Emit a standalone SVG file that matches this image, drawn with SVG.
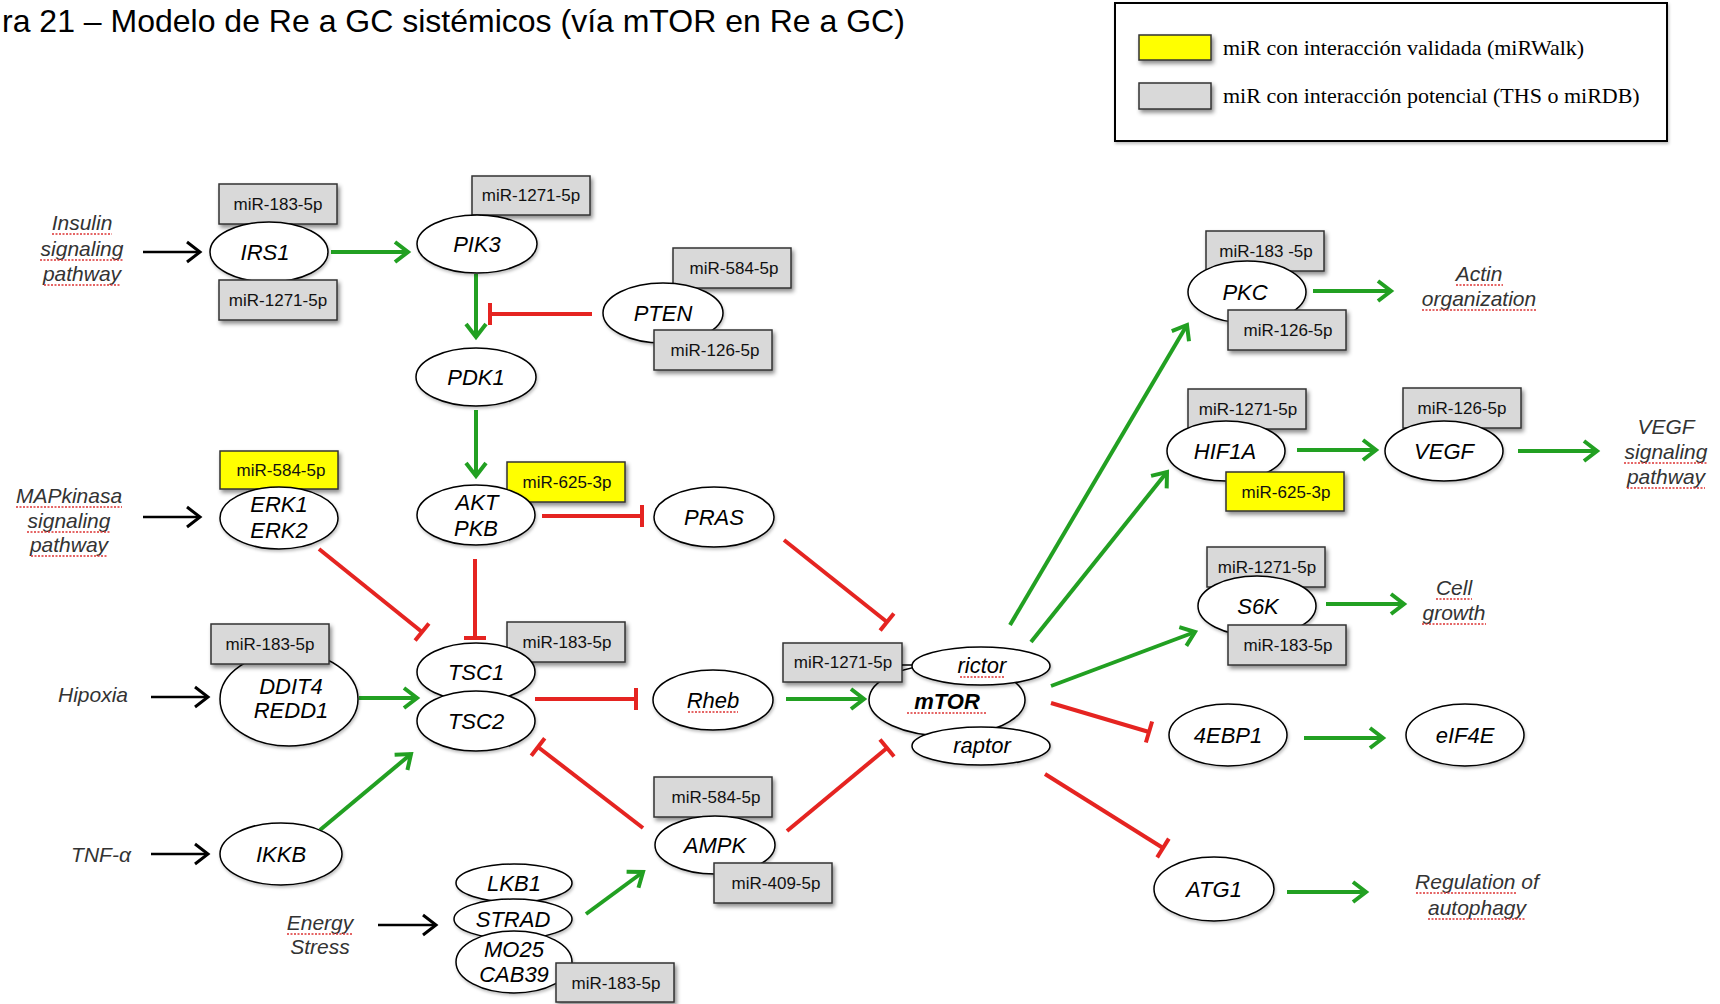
<svg xmlns="http://www.w3.org/2000/svg" width="1720" height="1004" viewBox="0 0 1720 1004">
<defs>
<filter id="sh" x="-20%" y="-30%" width="150%" height="170%"><feDropShadow dx="2" dy="3" stdDeviation="2" flood-color="#000" flood-opacity="0.45"/></filter>
<filter id="esh" x="-20%" y="-30%" width="150%" height="170%"><feDropShadow dx="1" dy="2" stdDeviation="1.5" flood-color="#000" flood-opacity="0.25"/></filter>
<marker id="ag" markerUnits="userSpaceOnUse" viewBox="-4 -14 22 28" markerWidth="22" markerHeight="28" refX="12" refY="0" orient="auto" overflow="visible"><path d="M-1,-10 L12,0 L-1,10" fill="none" stroke="#22a022" stroke-width="4"/></marker>
<marker id="ak" markerUnits="userSpaceOnUse" viewBox="-4 -14 22 28" markerWidth="22" markerHeight="28" refX="12" refY="0" orient="auto" overflow="visible"><path d="M-1,-10 L12,0 L-1,10" fill="none" stroke="#000" stroke-width="3"/></marker>
<marker id="ar" markerUnits="userSpaceOnUse" viewBox="-4 -14 8 28" markerWidth="8" markerHeight="28" refX="0" refY="0" orient="auto" overflow="visible"><path d="M0,-11 L0,11" stroke="#e52421" stroke-width="4"/></marker>
</defs>
<style>
.t{font-family:"Liberation Sans",Arial,sans-serif}
.lbl{font-family:"Liberation Sans",Arial,sans-serif;font-style:italic;font-size:22px;text-anchor:middle;fill:#000}
.ext{font-family:"Liberation Sans",Arial,sans-serif;font-style:italic;font-size:21px;text-anchor:middle;fill:#333}
.mir{font-family:"Liberation Sans",Arial,sans-serif;font-size:17px;text-anchor:middle;fill:#111}
.box{fill:#d9d9d9;stroke:#333;stroke-width:1.5;filter:url(#sh)}
.ybox{fill:#ffff00;stroke:#333;stroke-width:1.5;filter:url(#sh)}
.el{fill:#fff;stroke:#000;stroke-width:1.5;filter:url(#esh)}
.g{stroke:#22a022;stroke-width:4;fill:none;marker-end:url(#ag)}
.r{stroke:#e52421;stroke-width:4;fill:none;marker-end:url(#ar)}
.k{stroke:#000;stroke-width:2.5;fill:none;marker-end:url(#ak)}
.sq{stroke:#dd3333;stroke-width:1.4;stroke-dasharray:2 1.5;fill:none}
.leg{font-family:"Liberation Serif","Times New Roman",serif;font-size:22px;fill:#000}
</style>
<rect width="1720" height="1004" fill="#fff"/>

<text class="t" x="2" y="32" font-size="32" fill="#000">ra 21 – Modelo de Re a GC sistémicos (vía mTOR en Re a GC)</text>

<g id="legend">
<rect x="1115" y="3" width="552" height="138" fill="#fff" stroke="#000" stroke-width="2" filter="url(#esh)"/>
<rect x="1139" y="35" width="72" height="25" class="ybox"/>
<rect x="1139" y="83" width="72" height="26" class="box"/>
<text class="leg" x="1223" y="55">miR con interacción validada (miRWalk)</text>
<text class="leg" x="1223" y="103">miR con interacción potencial (THS o miRDB)</text>
</g>

<g id="connectors">
<path class="k" d="M143,252 L200,252"/>
<path class="k" d="M143,517 L200,517"/>
<path class="k" d="M151,697 L208,697"/>
<path class="k" d="M151,854 L208,854"/>
<path class="k" d="M378,925 L436,925"/>
<path class="g" d="M331,252 L408,252"/>
<path class="g" d="M476,274 L476,337"/>
<path class="g" d="M476,410 L476,476"/>
<path class="g" d="M359,698 L417,698"/>
<path class="g" d="M320,830 L411,754"/>
<path class="g" d="M586,914 L643,872"/>
<path class="g" d="M786,699 L864,699"/>
<path class="g" d="M1010,625 L1187,325"/>
<path class="g" d="M1031,642 L1167,472"/>
<path class="g" d="M1051,686 L1195,632"/>
<path class="g" d="M1313,291 L1391,291"/>
<path class="g" d="M1297,450 L1376,450"/>
<path class="g" d="M1518,451 L1597,451"/>
<path class="g" d="M1326,604 L1404,604"/>
<path class="g" d="M1304,738 L1383,738"/>
<path class="g" d="M1287,892 L1366,892"/>
<path class="r" d="M592,314 L490,314"/>
<path class="r" d="M542,516 L642,516"/>
<path class="r" d="M475,559 L475,638"/>
<path class="r" d="M319,549 L422,632"/>
<path class="r" d="M784,540 L887,622"/>
<path class="r" d="M535,699 L636,699"/>
<path class="r" d="M643,828 L538,747"/>
<path class="r" d="M787,831 L887,748"/>
<path class="r" d="M1051,703 L1149,732"/>
<path class="r" d="M1045,774 L1163,848"/>
</g>

<g id="labels">
<text class="ext"><tspan x="82" y="230">Insulin</tspan><tspan x="82" y="256">signaling</tspan><tspan x="82" y="281">pathway</tspan></text>
<path class="sq" d="M52,234 H112 M40,260 H124 M44,285 H120"/>
<text class="ext"><tspan x="69" y="503">MAPkinasa</tspan><tspan x="69" y="528">signaling</tspan><tspan x="69" y="552">pathway</tspan></text>
<path class="sq" d="M16,507 H122 M27,532 H111 M31,556 H107"/>
<text class="ext" x="93" y="702">Hipoxia</text>
<text class="ext" x="101" y="862">TNF-α</text>
<text class="ext"><tspan x="320" y="930">Energy</tspan><tspan x="320" y="954">Stress</tspan></text>
<path class="sq" d="M287,934 H353"/>
<text class="ext"><tspan x="1479" y="281">Actin</tspan><tspan x="1479" y="306">organization</tspan></text>
<path class="sq" d="M1456,285 H1503 M1422,310 H1537"/>
<text class="ext"><tspan x="1666" y="434">VEGF</tspan><tspan x="1666" y="459">signaling</tspan><tspan x="1666" y="484">pathway</tspan></text>
<path class="sq" d="M1624,463 H1708 M1627,488 H1705"/>
<text class="ext"><tspan x="1454" y="595">Cell</tspan><tspan x="1454" y="620">growth</tspan></text>
<path class="sq" d="M1436,599 H1472 M1422,624 H1486"/>
<text class="ext"><tspan x="1477" y="889">Regulation of</tspan><tspan x="1477" y="915">autophagy</tspan></text>
<path class="sq" d="M1416,893 H1517 M1428,919 H1526"/>
</g>

<g id="n-IRS1">
<rect class="box" x="219" y="184" width="118" height="40"/><text class="mir" x="278" y="210">miR-183-5p</text>
<ellipse class="el" cx="269" cy="252" rx="59" ry="30"/><text class="lbl" x="265" y="260">IRS1</text>
<rect class="box" x="219" y="280" width="118" height="40"/><text class="mir" x="278" y="306">miR-1271-5p</text>
</g>
<g id="n-PIK3">
<rect class="box" x="472" y="176" width="118" height="39"/><text class="mir" x="531" y="201">miR-1271-5p</text>
<ellipse class="el" cx="477" cy="244" rx="60" ry="29"/><text class="lbl" x="477" y="252">PIK3</text>
</g>
<g id="n-PTEN">
<rect class="box" x="673" y="248" width="118" height="40"/><text class="mir" x="734" y="274">miR-584-5p</text>
<ellipse class="el" cx="663" cy="313" rx="60" ry="30"/><text class="lbl" x="663" y="321">PTEN</text>
<rect class="box" x="654" y="330" width="118" height="40"/><text class="mir" x="715" y="356">miR-126-5p</text>
</g>
<g id="n-PDK1">
<ellipse class="el" cx="476" cy="377" rx="60" ry="29"/><text class="lbl" x="476" y="385">PDK1</text>
</g>
<g id="n-AKT">
<rect class="ybox" x="507" y="462" width="118" height="40"/><text class="mir" x="567" y="488">miR-625-3p</text>
<ellipse class="el" cx="476" cy="515" rx="59" ry="30"/><text class="lbl"><tspan x="477" y="510">AKT</tspan><tspan x="476" y="536">PKB</tspan></text>
</g>
<g id="n-PRAS">
<ellipse class="el" cx="714" cy="517" rx="60" ry="30"/><text class="lbl" x="714" y="525">PRAS</text>
</g>
<g id="n-ERK">
<rect class="ybox" x="220" y="451" width="118" height="38"/><text class="mir" x="281" y="476">miR-584-5p</text>
<ellipse class="el" cx="279" cy="518" rx="59" ry="31"/><text class="lbl"><tspan x="279" y="512">ERK1</tspan><tspan x="279" y="538">ERK2</tspan></text>
</g>
<g id="n-DDIT4">
<ellipse class="el" cx="289" cy="699" rx="69" ry="47"/><text class="lbl"><tspan x="291" y="694">DDIT4</tspan><tspan x="291" y="718">REDD1</tspan></text>
<rect class="box" x="211" y="624" width="118" height="40"/><text class="mir" x="270" y="650">miR-183-5p</text>
</g>
<g id="n-TSC">
<rect class="box" x="507" y="622" width="118" height="40"/><text class="mir" x="567" y="648">miR-183-5p</text>
<ellipse class="el" cx="476" cy="672" rx="59" ry="29"/><text class="lbl" x="476" y="680">TSC1</text>
<ellipse class="el" cx="476" cy="721" rx="59" ry="30"/><text class="lbl" x="476" y="729">TSC2</text>
</g>
<g id="n-Rheb">
<ellipse class="el" cx="713" cy="700" rx="60" ry="30"/><text class="lbl" x="713" y="708">Rheb</text>
<path class="sq" d="M688,712 H738"/>
</g>
<g id="n-IKKB">
<ellipse class="el" cx="281" cy="854" rx="61" ry="31"/><text class="lbl" x="281" y="862">IKKB</text>
</g>
<g id="n-LKB1">
<ellipse class="el" cx="514" cy="883" rx="58" ry="19"/><text class="lbl" x="514" y="891">LKB1</text>
<ellipse class="el" cx="513" cy="919" rx="59" ry="20"/><text class="lbl" x="513" y="927">STRAD</text>
<ellipse class="el" cx="514" cy="962" rx="58" ry="31"/><text class="lbl"><tspan x="514" y="957">MO25</tspan><tspan x="514" y="982">CAB39</tspan></text>
<rect class="box" x="556" y="963" width="118" height="39"/><text class="mir" x="616" y="989">miR-183-5p</text>
</g>
<g id="n-AMPK">
<rect class="box" x="654" y="777" width="118" height="40"/><text class="mir" x="716" y="803">miR-584-5p</text>
<ellipse class="el" cx="715" cy="845" rx="60" ry="29"/><text class="lbl" x="715" y="853">AMPK</text>
<rect class="box" x="714" y="863" width="118" height="40"/><text class="mir" x="776" y="889">miR-409-5p</text>
</g>
<g id="n-mTOR">
<ellipse class="el" cx="947" cy="700" rx="78" ry="36"/>
<ellipse class="el" cx="981" cy="666" rx="69" ry="19"/>
<ellipse class="el" cx="981" cy="746" rx="69" ry="19"/>
<text class="lbl" x="947" y="709" font-size="26" font-weight="bold">mTOR</text>
<path class="sq" d="M907,713 H987"/>
<text class="lbl" x="982" y="673" font-size="21">rictor</text>
<path class="sq" d="M960,677 H1004"/>
<text class="lbl" x="982" y="753" font-size="21">raptor</text>
<rect class="box" x="783" y="643" width="119" height="39"/><text class="mir" x="843" y="668">miR-1271-5p</text>
<path d="M902,665 H912" stroke="#000" stroke-width="1.5"/>
</g>
<g id="n-PKC">
<rect class="box" x="1206" y="231" width="118" height="40"/><text class="mir" x="1266" y="257">miR-183 -5p</text>
<ellipse class="el" cx="1247" cy="292" rx="59" ry="31"/><text class="lbl" x="1245" y="300">PKC</text>
<rect class="box" x="1228" y="310" width="118" height="40"/><text class="mir" x="1288" y="336">miR-126-5p</text>
</g>
<g id="n-HIF1A">
<rect class="box" x="1188" y="389" width="118" height="40"/><text class="mir" x="1248" y="415">miR-1271-5p</text>
<ellipse class="el" cx="1226" cy="451" rx="59" ry="30"/><text class="lbl" x="1225" y="459">HIF1A</text>
<rect class="ybox" x="1226" y="472" width="118" height="39"/><text class="mir" x="1286" y="498">miR-625-3p</text>
</g>
<g id="n-VEGF">
<rect class="box" x="1403" y="388" width="118" height="40"/><text class="mir" x="1462" y="414">miR-126-5p</text>
<ellipse class="el" cx="1444" cy="451" rx="59" ry="30"/><text class="lbl" x="1444" y="459">VEGF</text>
</g>
<g id="n-S6K">
<rect class="box" x="1207" y="547" width="118" height="40"/><text class="mir" x="1267" y="573">miR-1271-5p</text>
<ellipse class="el" cx="1257" cy="606" rx="59" ry="30"/><text class="lbl" x="1258" y="614">S6K</text>
<rect class="box" x="1228" y="625" width="118" height="40"/><text class="mir" x="1288" y="651">miR-183-5p</text>
</g>
<g id="n-4EBP1">
<ellipse class="el" cx="1228" cy="735" rx="59" ry="31"/><text class="lbl" x="1228" y="743">4EBP1</text>
</g>
<g id="n-eIF4E">
<ellipse class="el" cx="1465" cy="735" rx="59" ry="31"/><text class="lbl" x="1465" y="743">eIF4E</text>
</g>
<g id="n-ATG1">
<ellipse class="el" cx="1214" cy="889" rx="60" ry="32"/><text class="lbl" x="1214" y="897">ATG1</text>
</g>
</svg>
